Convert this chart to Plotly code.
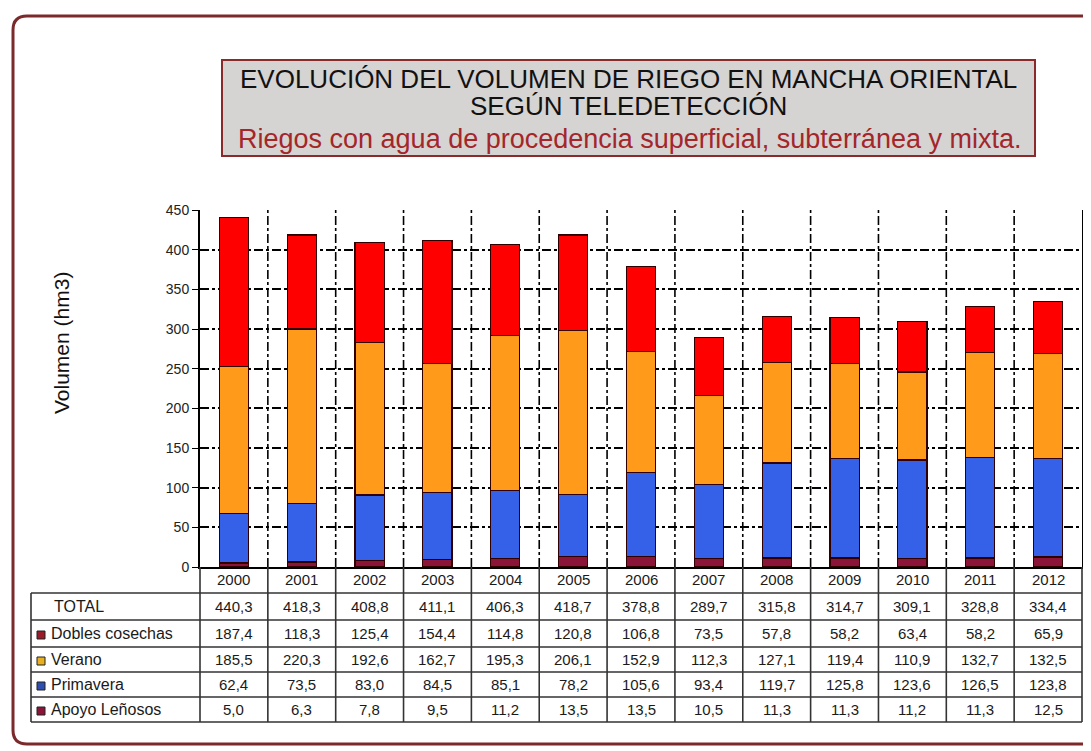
import plotly.graph_objects as go

years = ["2000", "2001", "2002", "2003", "2004", "2005", "2006", "2007", "2008", "2009", "2010", "2011", "2012"]
total = [440.3, 418.3, 408.8, 411.1, 406.3, 418.7, 378.8, 289.7, 315.8, 314.7, 309.1, 328.8, 334.4]
dobles = [187.4, 118.3, 125.4, 154.4, 114.8, 120.8, 106.8, 73.5, 57.8, 58.2, 63.4, 58.2, 65.9]
verano = [185.5, 220.3, 192.6, 162.7, 195.3, 206.1, 152.9, 112.3, 127.1, 119.4, 110.9, 132.7, 132.5]
primavera = [62.4, 73.5, 83.0, 84.5, 85.1, 78.2, 105.6, 93.4, 119.7, 125.8, 123.6, 126.5, 123.8]
apoyo = [5.0, 6.3, 7.8, 9.5, 11.2, 13.5, 13.5, 10.5, 11.3, 11.3, 11.2, 11.3, 12.5]

series_names = ["Apoyo Leñosos", "Primavera", "Verano", "Dobles cosechas"]
series_vals = [apoyo, primavera, verano, dobles]
series_colors = ["#8B1538", "#3560E8", "#FF9A1A", "#FF0000"]
swatch_colors = {"Dobles cosechas": "#9A1B2A", "Verano": "#E8B020", "Primavera": "#2F4FB0", "Apoyo Leñosos": "#8B1538"}
table_rows = [("TOTAL", total), ("Dobles cosechas", dobles), ("Verano", verano),
              ("Primavera", primavera), ("Apoyo Leñosos", apoyo)]

OFF = 8  # page body margin
W, H = 1091 - OFF, 751 - OFF
PX0, PX1, PY0, PY1 = 200, 1082, 210, 567  # plot area in screenshot pixels
L, R, T, B = PX0 - OFF, W - (PX1 - OFF), PY0 - OFF, H - (PY1 - OFF)
PW, PH = W - L - R, H - T - B


def px(x):
    return (x - PX0) / PW


def py(y):
    return (PY1 - y) / PH


xs = list(range(len(years)))
fig = go.Figure()
for name, vals, col in zip(series_names, series_vals, series_colors):
    fig.add_trace(go.Bar(x=xs, y=vals, name=name, marker=dict(color=col, line=dict(color="#300000", width=1.2)),
                         width=0.43, showlegend=False))

shapes = []
# outer rounded border
x0, y0, x1, y1, r = 13, 16, 1110, 744, 14
path = (f"M {px(x0)},{py(y0 + r)} L {px(x0)},{py(y1 - r)} Q {px(x0)},{py(y1)} {px(x0 + r)},{py(y1)} "
        f"L {px(x1 - r)},{py(y1)} Q {px(x1)},{py(y1)} {px(x1)},{py(y1 - r)} L {px(x1)},{py(y0 + r)} "
        f"Q {px(x1)},{py(y0)} {px(x1 - r)},{py(y0)} L {px(x0 + r)},{py(y0)} Q {px(x0)},{py(y0)} {px(x0)},{py(y0 + r)} Z")
shapes.append(dict(type="path", xref="paper", yref="paper", path=path, line=dict(color="#7A2A2A", width=3), layer="below"))
# title box
shapes.append(dict(type="rect", xref="paper", yref="paper", x0=px(222), x1=px(1035), y0=py(60), y1=py(156),
                   fillcolor="#D6D3D3", line=dict(color="#8B2A2A", width=2), layer="below"))
# vertical grid lines (dash-dot) in plot
n = len(years)
for k in range(1, n):
    shapes.append(dict(type="line", xref="paper", yref="paper", x0=k / n, x1=k / n, y0=0, y1=1,
                       line=dict(color="black", width=1.6, dash="dashdot"), layer="below"))
# table lines
tc = "#333333"
row_lines = [593, 620, 647, 672, 697, 722]
for yy in row_lines:
    shapes.append(dict(type="line", xref="paper", yref="paper", x0=px(31), x1=px(1082), y0=py(yy), y1=py(yy),
                       line=dict(color=tc, width=1.6)))
shapes.append(dict(type="line", xref="paper", yref="paper", x0=px(31), x1=px(31), y0=py(593), y1=py(722),
                   line=dict(color=tc, width=1.6)))
for k in range(0, n + 1):
    shapes.append(dict(type="line", xref="paper", yref="paper", x0=k / n, x1=k / n, y0=py(567), y1=py(722),
                       line=dict(color=tc, width=1.6)))

annotations = []


def ann(text, x, y, size, color="#111", xanchor="center", angle=0):
    annotations.append(dict(text=text, xref="paper", yref="paper", x=x, y=y, xanchor=xanchor, yanchor="middle",
                            showarrow=False, textangle=angle,
                            font=dict(family="Liberation Sans", size=size, color=color)))


ann("EVOLUCIÓN DEL VOLUMEN DE RIEGO EN MANCHA ORIENTAL", px(628), py(79), 26)
ann("SEGÚN TELEDETECCIÓN", px(628), py(106), 26)
ann("Riegos con agua de procedencia superficial, subterránea y mixta.", px(629), py(139), 27, "#A3262A")
ann("Volumen (hm3)", px(61), py(343), 21, angle=-90)

tcol = "#1a1a1a"
for k, yr in enumerate(years):
    ann(yr, (k + 0.5) / n, py(579), 15, tcol)
row_centers = [606, 633, 659, 684, 709]
for (label, vals), yc in zip(table_rows, row_centers):
    lx = 52 if label == "TOTAL" else 49
    ann(label, px(lx), py(yc), 16, tcol, xanchor="left")
    if label in swatch_colors:
        shapes.append(dict(type="rect", xref="paper", yref="paper", x0=px(37), x1=px(45), y0=py(yc - 2), y1=py(yc + 6),
                           fillcolor=swatch_colors[label], line=dict(color="#222", width=1)))
    for k, v in enumerate(vals):
        ann(f"{v:.1f}".replace(".", ","), (k + 0.5) / n, py(yc), 15, tcol)

fig.update_layout(
    width=W, height=H, margin=dict(l=L, r=R, t=T, b=B, autoexpand=False),
    paper_bgcolor="white", plot_bgcolor="white",
    barmode="stack", bargap=0.57,
    shapes=shapes, annotations=annotations,
    xaxis=dict(range=[-0.5, n - 0.5], showticklabels=False, showgrid=False, zeroline=False,
               showline=True, linecolor="black", linewidth=2, ticks=""),
    yaxis=dict(range=[0, 450], tickvals=list(range(0, 451, 50)), showgrid=True, gridcolor="black", gridwidth=1.6,
               griddash="dashdot", zeroline=False, showline=True, linecolor="black", linewidth=2, mirror=True,
               ticks="outside", ticklen=6, tickcolor="black",
               tickfont=dict(family="Liberation Sans", size=14, color="#222")),
)
fig.write_html("out.html")
